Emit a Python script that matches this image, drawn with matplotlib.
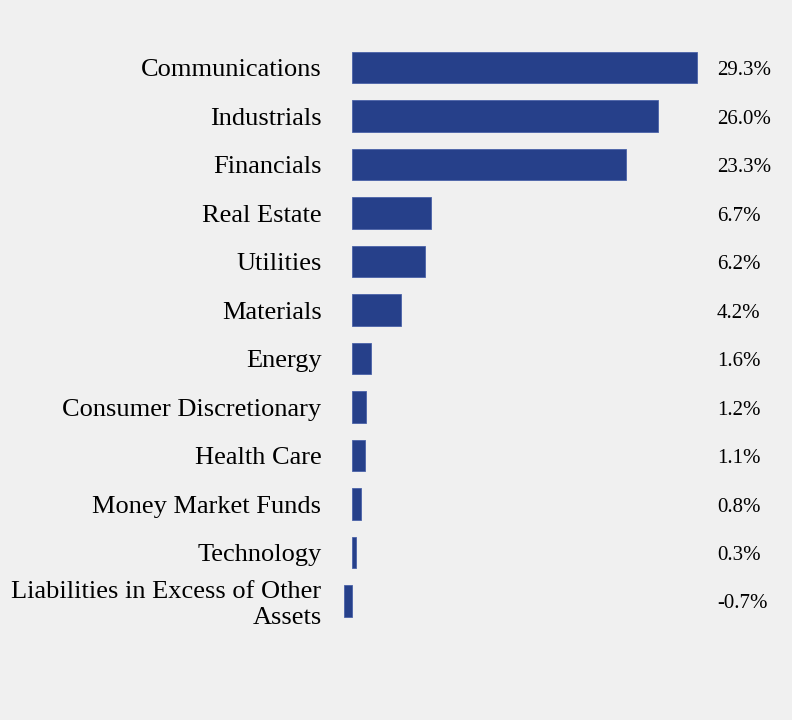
import matplotlib
matplotlib.use("Agg")
import matplotlib.pyplot as plt
import matplotlib.transforms as mtransforms

categories = ["Communications", "Industrials", "Financials", "Real Estate", "Utilities",
              "Materials", "Energy", "Consumer Discretionary", "Health Care",
              "Money Market Funds", "Technology", "Liabilities in Excess of Other\nAssets"]
values = [29.3, 26.0, 23.3, 6.7, 6.2, 4.2, 1.6, 1.2, 1.1, 0.8, 0.3, -0.7]
value_labels = ["29.3%", "26.0%", "23.3%", "6.7%", "6.2%", "4.2%", "1.6%", "1.2%",
                "1.1%", "0.8%", "0.3%", "-0.7%"]

plt.rcParams['font.family'] = ['Liberation Serif', 'DejaVu Serif']
bg = "#f0f0f0"
fig = plt.figure(figsize=(7.92, 7.2), dpi=100, facecolor=bg)
ax = fig.add_axes([0.4296, 0.1316, 0.4549, 0.8083])
ax.set_facecolor(bg)

ypos = list(range(len(categories)))
ax.barh(ypos, values, height=0.64, color="#26408a", edgecolor="#4a62a8", linewidth=0.6)
ax.set_xlim(-1, 29.6)
ax.set_ylim(len(categories) - 0.5, -0.5)
ax.set_yticks(ypos)
ax.set_yticklabels(categories, fontsize=19, ha="right", linespacing=1.2)
ax.tick_params(axis="y", length=0, pad=13.5)
ax.set_xticks([])
for s in ax.spines.values():
    s.set_visible(False)

trans = mtransforms.blended_transform_factory(fig.transFigure, ax.transData)
trans = trans + mtransforms.ScaledTranslation(0, -3 / 100, fig.dpi_scale_trans)
for y, lab in zip(ypos, value_labels):
    ax.text(717 / 792, y, lab, transform=trans, ha="left", va="center", fontsize=15)

fig.savefig("out.png", dpi=100, facecolor=bg)
